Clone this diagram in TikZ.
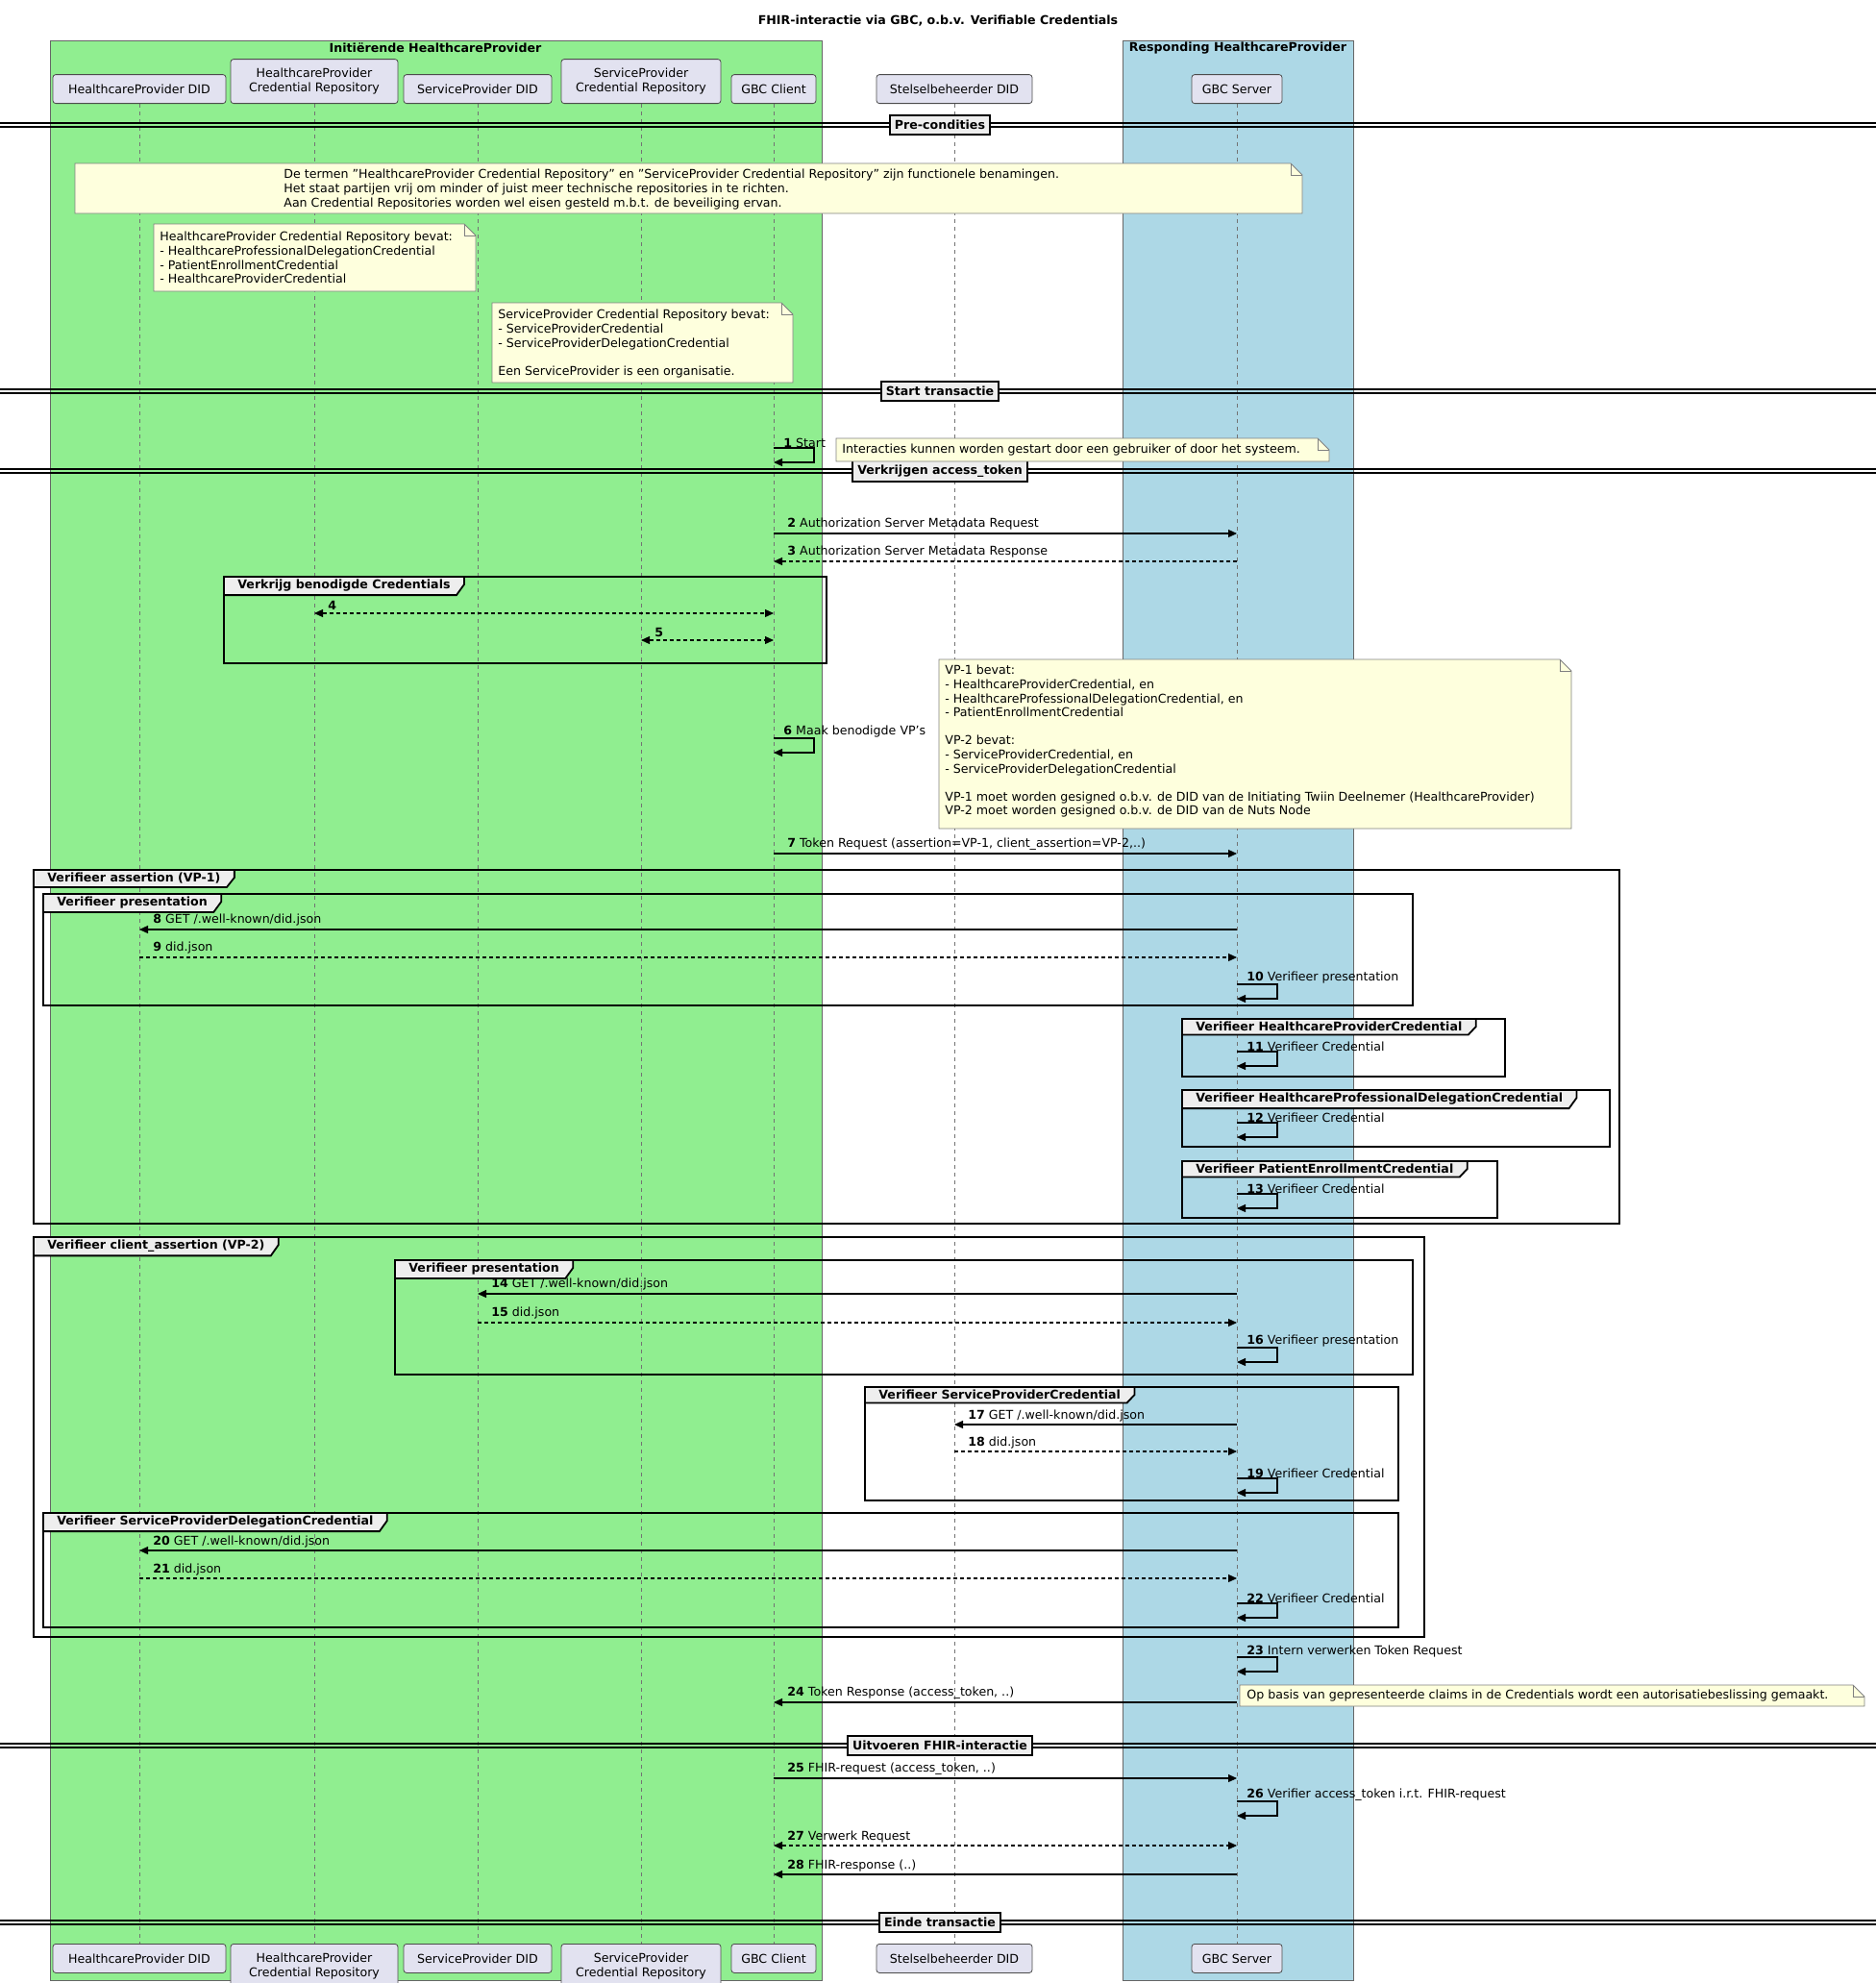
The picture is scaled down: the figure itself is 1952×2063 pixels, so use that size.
\documentclass[tikz,border=0pt]{standalone}
\usepackage{fontspec}
\setmainfont{DejaVu Sans}
\usetikzlibrary{arrows.meta,calc}
\definecolor{pgreen}{HTML}{90EE90}
\definecolor{pblue}{HTML}{ADD8E6}
\definecolor{partfill}{HTML}{E2E2F0}
\definecolor{notefill}{HTML}{FEFFDD}
\definecolor{tabfill}{HTML}{EEEEEE}
\tikzset{
 x=0.5pt,y=-0.5pt,
 every node/.style={font=\fontsize{6.3}{7.3}\selectfont},
 part/.style={draw=black!70,fill=partfill,rounded corners=1.5pt,align=center,inner sep=2pt,line width=0.4pt},
 life/.style={draw=black!55,dash pattern=on 2pt off 2pt,line width=0.4pt},
 m/.style={line width=0.6pt,-{Triangle[length=4.5pt,width=4pt]}},
 md/.style={m,dash pattern=on 2pt off 1.5pt},
 mdd/.style={md,{Triangle[length=4.5pt,width=4pt]}-{Triangle[length=4.5pt,width=4pt]}},
 lbl/.style={anchor=south west,inner sep=1pt},
 grpline/.style={line width=0.9pt,draw=black},
 grplbl/.style={font=\fontsize{6.3}{7.3}\selectfont\bfseries,inner xsep=7pt,inner ysep=1.5pt},
 notebox/.style={fill=notefill,draw=black!50,line width=0.4pt},
 divbox/.style={draw=black,line width=0.9pt,fill=tabfill,font=\fontsize{6.3}{7.3}\selectfont\bfseries,inner sep=2.5pt},
}
\newcommand\msg[6]{\draw[#6] (#1,#3) -- (#2,#3);
 \node[lbl] at ({min(#1,#2)+12},#3-1) {\textbf{#4} #5};}
\newcommand\selfm[4]{\draw[m] (#1,#2) -- (#1+42,#2) -- (#1+42,#2+15) -- (#1,#2+15);
 \node[lbl] at (#1+8,#2+2) {\textbf{#3} #4};}
\newcommand\grp[6]{\draw[grpline] (#1,#2) rectangle (#3,#4);
 \node[grplbl,anchor=north west] (#6) at (#1,#2) {#5};
 \filldraw[grpline,fill=tabfill] (#6.north west) -- (#6.south west) -- ([xshift=-4pt]#6.south east) -- ([yshift=-4pt]#6.north east) -- (#6.north east) -- cycle;
 \node[grplbl,anchor=north west] at (#1,#2) {#5};}
\newcommand\note[7]{\filldraw[notebox] (#1,#2) -- (#3-12,#2) -- (#3,#2+12) -- (#3,#4) -- (#1,#4) -- cycle;
 \draw[draw=black!50,line width=0.4pt] (#3-12,#2) -- (#3-12,#2+12) -- (#3,#2+12);
 \node[anchor=north west,align=left,inner sep=0pt] (#7) at (#5,#6) {#6#7};}
\newcommand\nt[7]{\filldraw[notebox] (#1,#2) -- (#3-12,#2) -- (#3,#2+12) -- (#3,#4) -- (#1,#4) -- cycle;
 \draw[draw=black!50,line width=0.4pt] (#3-12,#2) -- (#3-12,#2+12) -- (#3,#2+12);
 \node[anchor=north west,align=left,inner sep=0pt] (#6) at (#5) {#7};}
\newcommand\divider[2]{\draw[line width=0.6pt] (0,#1-2) -- (1952,#1-2) (0,#1+2) -- (1952,#1+2);
 \node[divbox] at (978,#1) {#2};}
\begin{document}
\begin{tikzpicture}
\useasboundingbox[fill=white] (0,0) rectangle (1952,2063);
% boxes
\fill[pgreen] (52,42) rectangle (855,2060);
\draw[black!60,line width=0.4pt] (52,42) rectangle (855,2060);
\fill[pblue] (1168,42) rectangle (1408,2060);
\draw[black!60,line width=0.4pt] (1168,42) rectangle (1408,2060);
\node[font=\fontsize{6.3}{7.3}\selectfont\bfseries] (title) at (976,22) {FHIR-interactie via GBC, o.b.v. Verifiable Credentials};
\node[font=\fontsize{6.3}{7.3}\selectfont\bfseries] (bt1) at (453,50) {Initiërende HealthcareProvider};
\node[font=\fontsize{6.3}{7.3}\selectfont\bfseries] (bt2) at (1288,50) {Responding HealthcareProvider};
% lifelines
\foreach \x in {145,327,497,667,805,993,1287} \draw[life] (\x,108) -- (\x,2022);
% participants top
\node[part,anchor=south,minimum width=90pt,minimum height=15pt] (p1) at (145,108) {HealthcareProvider DID};
\node[part,anchor=south,minimum width=87pt,minimum height=23pt] (p2) at (327,108) {HealthcareProvider\\Credential Repository};
\node[part,anchor=south,minimum width=77pt,minimum height=15pt] (p3) at (497,108) {ServiceProvider DID};
\node[part,anchor=south,minimum width=83pt,minimum height=23pt] (p4) at (667,108) {ServiceProvider\\Credential Repository};
\node[part,anchor=south,minimum width=44pt,minimum height=15pt] (p5) at (805,108) {GBC Client};
\node[part,anchor=south,minimum width=81pt,minimum height=15pt] (p6) at (993,108) {Stelselbeheerder DID};
\node[part,anchor=south,minimum width=47pt,minimum height=15pt] (p7) at (1287,108) {GBC Server};
% participants bottom
\node[part,anchor=north,minimum width=90pt,minimum height=15pt] (q1) at (145,2022) {HealthcareProvider DID};
\node[part,anchor=north,minimum width=87pt,minimum height=23pt] (q2) at (327,2022) {HealthcareProvider\\Credential Repository};
\node[part,anchor=north,minimum width=77pt,minimum height=15pt] (q3) at (497,2022) {ServiceProvider DID};
\node[part,anchor=north,minimum width=83pt,minimum height=23pt] (q4) at (667,2022) {ServiceProvider\\Credential Repository};
\node[part,anchor=north,minimum width=44pt,minimum height=15pt] (q5) at (805,2022) {GBC Client};
\node[part,anchor=north,minimum width=81pt,minimum height=15pt] (q6) at (993,2022) {Stelselbeheerder DID};
\node[part,anchor=north,minimum width=47pt,minimum height=15pt] (q7) at (1287,2022) {GBC Server};
% dividers
\divider{130}{Pre-condities}
\divider{407}{Start transactie}
\divider{490}{Verkrijgen access\_token}
\divider{1816}{Uitvoeren FHIR-interactie}
\divider{2000}{Einde transactie}
% notes
\nt{78}{170}{1355}{222}{295,176}{n1}{De termen "HealthcareProvider Credential Repository" en "ServiceProvider Credential Repository" zijn functionele benamingen.\\Het staat partijen vrij om minder of juist meer technische repositories in te richten.\\Aan Credential Repositories worden wel eisen gesteld m.b.t. de beveiliging ervan.}
\nt{160}{233}{495}{303}{166,241}{n2}{HealthcareProvider Credential Repository bevat:\\- HealthcareProfessionalDelegationCredential\\- PatientEnrollmentCredential\\- HealthcareProviderCredential}
\nt{512}{315}{825}{398}{518,322}{n3}{ServiceProvider Credential Repository bevat:\\- ServiceProviderCredential\\- ServiceProviderDelegationCredential\\[7.3pt]Een ServiceProvider is een organisatie.}
\nt{870}{456}{1383}{480}{876,462}{n4}{Interacties kunnen worden gestart door een gebruiker of door het systeem.}
\nt{977}{686}{1635}{862}{983,692}{n5}{VP-1 bevat:\\- HealthcareProviderCredential, en\\- HealthcareProfessionalDelegationCredential, en\\- PatientEnrollmentCredential\\[7.3pt]VP-2 bevat:\\- ServiceProviderCredential, en\\- ServiceProviderDelegationCredential\\[7.3pt]VP-1 moet worden gesigned o.b.v. de DID van de Initiating Twiin Deelnemer (HealthcareProvider)\\VP-2 moet worden gesigned o.b.v. de DID van de Nuts Node}
\nt{1290}{1753}{1940}{1775}{1297,1758}{n6}{Op basis van gepresenteerde claims in de Credentials wordt een autorisatiebeslissing gemaakt.}
% messages
\selfm{805}{466}{1}{Start}
\msg{805}{1287}{555}{2}{Authorization Server Metadata Request}{m}
\msg{1287}{805}{584}{3}{Authorization Server Metadata Response}{md}
\grp{233}{600}{860}{690}{Verkrijg benodigde Credentials}{g0}
\msg{327}{805}{638}{4}{}{mdd}
\msg{667}{805}{666}{5}{}{mdd}
\selfm{805}{768}{6}{Maak benodigde VP's}
\msg{805}{1287}{888}{7}{Token Request (assertion=VP-1, client\_assertion=VP-2,..)}{m}
\grp{35}{905}{1685}{1273}{Verifieer assertion (VP-1)}{g1}
\grp{45}{930}{1470}{1046}{Verifieer presentation}{g2}
\msg{1287}{145}{967}{8}{GET /.well-known/did.json}{m}
\msg{145}{1287}{996}{9}{did.json}{md}
\selfm{1287}{1024}{10}{Verifieer presentation}
\grp{1230}{1060}{1566}{1120}{Verifieer HealthcareProviderCredential}{g3}
\selfm{1287}{1094}{11}{Verifieer Credential}
\grp{1230}{1134}{1675}{1193}{Verifieer HealthcareProfessionalDelegationCredential}{g4}
\selfm{1287}{1168}{12}{Verifieer Credential}
\grp{1230}{1208}{1558}{1267}{Verifieer PatientEnrollmentCredential}{g5}
\selfm{1287}{1242}{13}{Verifieer Credential}
\grp{35}{1287}{1482}{1703}{Verifieer client\_assertion (VP-2)}{g6}
\grp{411}{1311}{1470}{1430}{Verifieer presentation}{g7}
\msg{1287}{497}{1346}{14}{GET /.well-known/did.json}{m}
\msg{497}{1287}{1376}{15}{did.json}{md}
\selfm{1287}{1402}{16}{Verifieer presentation}
\grp{900}{1443}{1455}{1561}{Verifieer ServiceProviderCredential}{g8}
\msg{1287}{993}{1482}{17}{GET /.well-known/did.json}{m}
\msg{993}{1287}{1510}{18}{did.json}{md}
\selfm{1287}{1538}{19}{Verifieer Credential}
\grp{45}{1574}{1455}{1693}{Verifieer ServiceProviderDelegationCredential}{g9}
\msg{1287}{145}{1613}{20}{GET /.well-known/did.json}{m}
\msg{145}{1287}{1642}{21}{did.json}{md}
\selfm{1287}{1668}{22}{Verifieer Credential}
\selfm{1287}{1724}{23}{Intern verwerken Token Request}
\msg{1287}{805}{1771}{24}{Token Response (access\_token, ..)}{m}
\msg{805}{1287}{1850}{25}{FHIR-request (access\_token, ..)}{m}
\selfm{1287}{1874}{26}{Verifier access\_token i.r.t. FHIR-request}
\msg{805}{1287}{1920}{27}{Verwerk Request}{mdd}
\msg{1287}{805}{1950}{28}{FHIR-response (..)}{m}
\end{tikzpicture}
\end{document}
